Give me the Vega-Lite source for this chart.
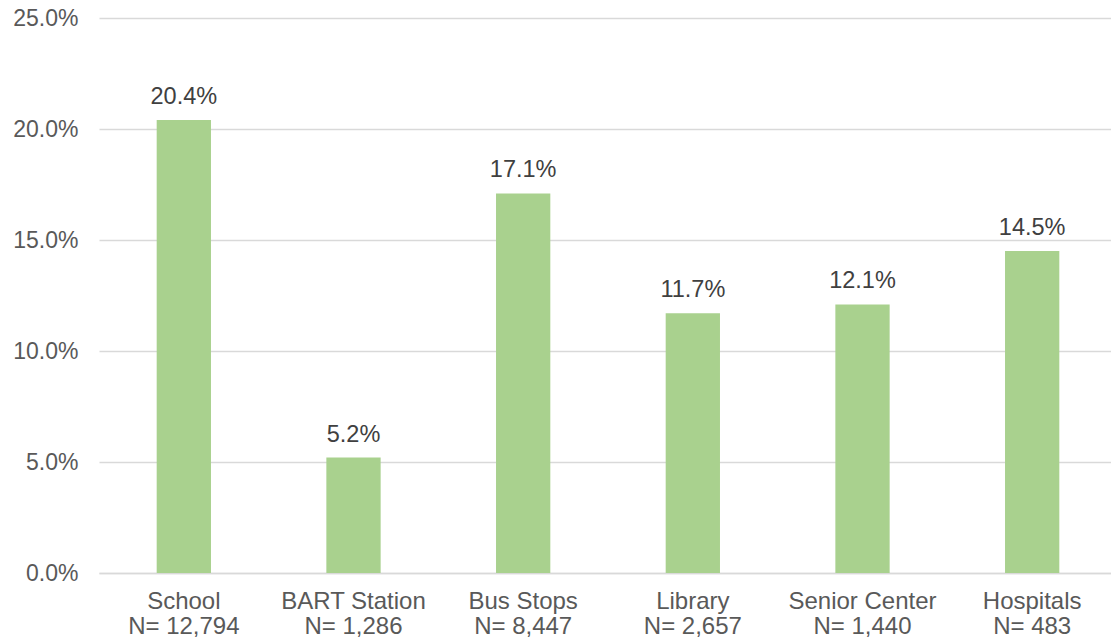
{
  "$schema": "https://vega.github.io/schema/vega-lite/v6.json",
  "autosize": {"type": "none"},
  "width": 1018,
  "height": 555,
  "padding": {"left": 99, "top": 18, "right": 0, "bottom": 70},
  "background": "white",
  "config": {"view": {"stroke": null}, "font": "Liberation Sans"},
  "data": {
    "values": [
      {"place": "School|N= 12,794", "share": 0.204},
      {"place": "BART Station|N= 1,286", "share": 0.052},
      {"place": "Bus Stops|N= 8,447", "share": 0.171},
      {"place": "Library|N= 2,657", "share": 0.117},
      {"place": "Senior Center|N= 1,440", "share": 0.121},
      {"place": "Hospitals|N= 483", "share": 0.145}
    ]
  },
  "encoding": {
    "x": {
      "field": "place",
      "type": "nominal",
      "sort": null,
      "scale": {"paddingInner": 0.68, "paddingOuter": 0.34},
      "axis": {
        "title": null,
        "labelAngle": 0,
        "labelExpr": "split(datum.value, '|')",
        "labelFontSize": 24,
        "labelColor": "#595959",
        "labelLineHeight": 25,
        "labelPadding": 16,
        "labelBaseline": "top",
        "ticks": false,
        "domainColor": "#D9D9D9",
        "domainWidth": 1.5
      }
    },
    "y": {
      "field": "share",
      "type": "quantitative",
      "scale": {"domain": [0, 0.25], "nice": false},
      "axis": {
        "title": null,
        "format": ".1%",
        "values": [0, 0.05, 0.1, 0.15, 0.2, 0.25],
        "labelFontSize": 23,
        "labelColor": "#595959",
        "labelPadding": 21,
        "ticks": false,
        "domain": false,
        "gridColor": "#D9D9D9",
        "gridWidth": 1.5
      }
    }
  },
  "layer": [
    {"mark": {"type": "bar", "color": "#A9D18E"}},
    {
      "mark": {"type": "text", "baseline": "bottom", "dy": -11, "fontSize": 23.5, "color": "#404040"},
      "encoding": {"text": {"field": "share", "type": "quantitative", "format": ".1%"}}
    }
  ]
}
